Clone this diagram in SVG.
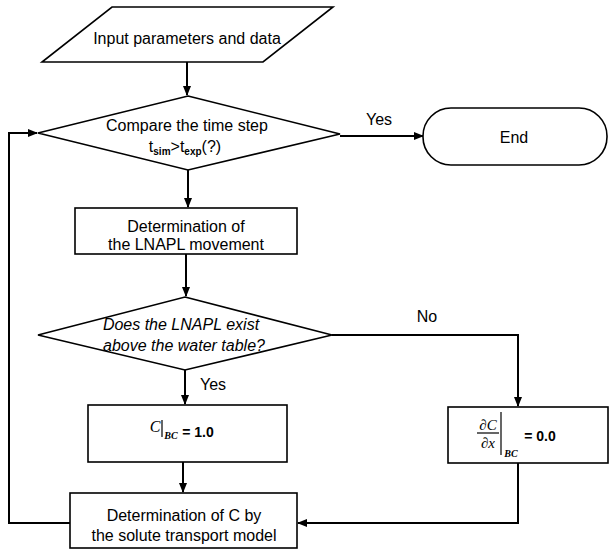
<svg xmlns="http://www.w3.org/2000/svg" width="611" height="552" viewBox="0 0 611 552">
<style>
.s{fill:#fff;stroke:#000;stroke-width:1.6}
.t{font-family:"Liberation Sans",Arial,sans-serif;font-size:16px;fill:#000;text-anchor:middle}
.i{font-style:italic}
.c{fill:none;stroke:#000;stroke-width:2}
.sub{font-size:10px;font-weight:bold}
</style>
<defs>
<marker id="a" markerWidth="10" markerHeight="10" refX="9" refY="5" orient="auto" markerUnits="userSpaceOnUse">
<path d="M0,1 L10,5 L0,9 Z" fill="#000"/>
</marker>
</defs>
<g id="connectors">
<path class="c" d="M187,62 V95" marker-end="url(#a)"/>
<path class="c" d="M340,136 H423" marker-end="url(#a)"/>
<path class="c" d="M188,170 V207" marker-end="url(#a)"/>
<path class="c" d="M186,254 V296" marker-end="url(#a)"/>
<path class="c" d="M332,335 H518 V406" marker-end="url(#a)"/>
<path class="c" d="M185,370 V404" marker-end="url(#a)"/>
<path class="c" d="M183,462 V492" marker-end="url(#a)"/>
<path class="c" d="M518,463 V523 H298" marker-end="url(#a)"/>
<path class="c" d="M70,523 H9 V133 H37" marker-end="url(#a)"/>
<text class="t" x="379" y="125">Yes</text>
<text class="t" x="427" y="322">No</text>
<text class="t" x="213" y="390">Yes</text>
</g>
<g id="input">
<polygon class="s" points="112,7 333,7 263,62 42,62"/>
<text class="t" x="187" y="44">Input parameters and data</text>
</g>
<g id="compare">
<polygon class="s" points="188,96 340,134 188,170 38,133"/>
<text class="t" x="187" y="131">Compare the time step</text>
<text class="t" x="185" y="152">t<tspan class="sub" dy="3">sim</tspan><tspan dy="-3">&gt;t</tspan><tspan class="sub" dy="3">exp</tspan><tspan dy="-3">(?)</tspan></text>
</g>
<g id="end">
<rect class="s" x="423" y="108" width="184" height="57" rx="28" ry="28"/>
<text class="t" x="514" y="143">End</text>
</g>
<g id="lnapl-move">
<rect class="s" x="75" y="208" width="222" height="46"/>
<text class="t" x="186" y="232">Determination of</text>
<text class="t" x="186" y="250">the LNAPL movement</text>
</g>
<g id="exist">
<polygon class="s" points="185,297 332,335 185,370 38,335"/>
<text class="t i" x="181" y="330">Does the LNAPL exist</text>
<text class="t i" x="184" y="351">above the water table?</text>
</g>
<g id="bc1">
<rect class="s" x="88" y="405" width="199" height="57"/>
<text class="t i" x="155" y="432" style="font-family:'Liberation Serif',serif">C</text>
<line x1="162" y1="420" x2="162" y2="437" stroke="#000" stroke-width="1.2"/>
<text class="t i" x="171" y="439" style="font-size:10px;font-weight:bold;font-family:'Liberation Serif',serif">BC</text>
<text class="t" x="198" y="437" style="font-weight:bold;font-size:14px">= 1.0</text>
</g>
<g id="bc0">
<rect class="s" x="448" y="407" width="160" height="56"/>
<text class="t i" x="488" y="430" style="font-family:'Liberation Serif',serif;font-size:15px">∂C</text>
<line x1="477" y1="433" x2="499" y2="433" stroke="#000" stroke-width="1.2"/>
<text class="t i" x="488" y="448" style="font-family:'Liberation Serif',serif;font-size:15px">∂x</text>
<line x1="501" y1="412" x2="501" y2="455" stroke="#000" stroke-width="1.2"/>
<text class="t i" x="511" y="457" style="font-size:10px;font-weight:bold;font-family:'Liberation Serif',serif">BC</text>
<text class="t" x="540" y="441" style="font-weight:bold;font-size:14px">= 0.0</text>
</g>
<g id="solute">
<rect class="s" x="70" y="493" width="227" height="55"/>
<text class="t" x="184" y="521">Determination of C by</text>
<text class="t" x="184" y="541">the solute transport model</text>
</g>
</svg>
